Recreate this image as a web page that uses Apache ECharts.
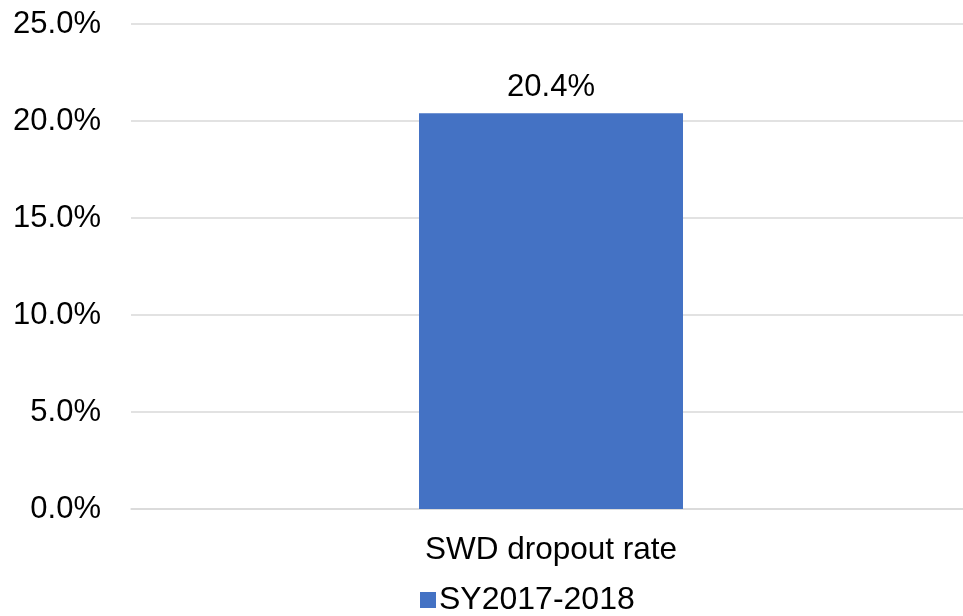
<!DOCTYPE html>
<html lang="en">
<head>
    <meta charset="UTF-8">
    <title>SWD dropout rate</title>
    <script src="https://cdn.jsdelivr.net/npm/echarts@6/dist/echarts.min.js"></script>
    <style>
        html, body { margin: 0; padding: 0; background: #fff; }
        #main { width: 963px; height: 616px; }
    </style>
</head>
<body>
<div id="main"></div>
<script type="text/javascript">
    var categories = ['SWD dropout rate'];
    var seriesName = 'SY2017-2018';
    var rates = [20.4];

    var font = 'Liberation Sans, Arial, sans-serif';
    var myChart = echarts.init(document.getElementById('main'));

    var option = {
        animation: false,
        grid: {
            left: 131,
            width: 840,
            top: 24,
            bottom: 107,
            outerBoundsMode: 'none'
        },
        legend: {
            data: [seriesName],
            top: 584,
            left: 420,
            padding: 0,
            itemWidth: 16,
            itemHeight: 16,
            itemGap: 4,
            icon: 'rect',
            textStyle: { fontFamily: font, fontSize: 32, color: '#000', padding: [0, 0, 0, -2] }
        },
        xAxis: {
            type: 'category',
            data: categories,
            axisTick: { show: false },
            axisLine: { lineStyle: { color: '#d9d9d9', width: 1.5 } },
            axisLabel: { fontFamily: font, fontSize: 31.5, color: '#000', margin: 25 }
        },
        yAxis: {
            type: 'value',
            min: 0,
            max: 25,
            interval: 5,
            axisLine: { show: false },
            axisTick: { show: false },
            splitLine: { lineStyle: { color: '#d9d9d9', width: 1.5 } },
            axisLabel: {
                fontFamily: font, fontSize: 31, color: '#000', margin: 30,
                formatter: function (v) { return v.toFixed(1) + '%'; }
            }
        },
        series: [{
            name: seriesName,
            type: 'bar',
            data: rates,
            barWidth: 264,
            itemStyle: { color: '#4472c4' },
            label: {
                show: true,
                position: 'top',
                distance: 10,
                fontFamily: font,
                fontSize: 31,
                color: '#000',
                formatter: function (p) { return p.value.toFixed(1) + '%'; }
            }
        }]
    };
    myChart.setOption(option);
</script>
</body>
</html>
